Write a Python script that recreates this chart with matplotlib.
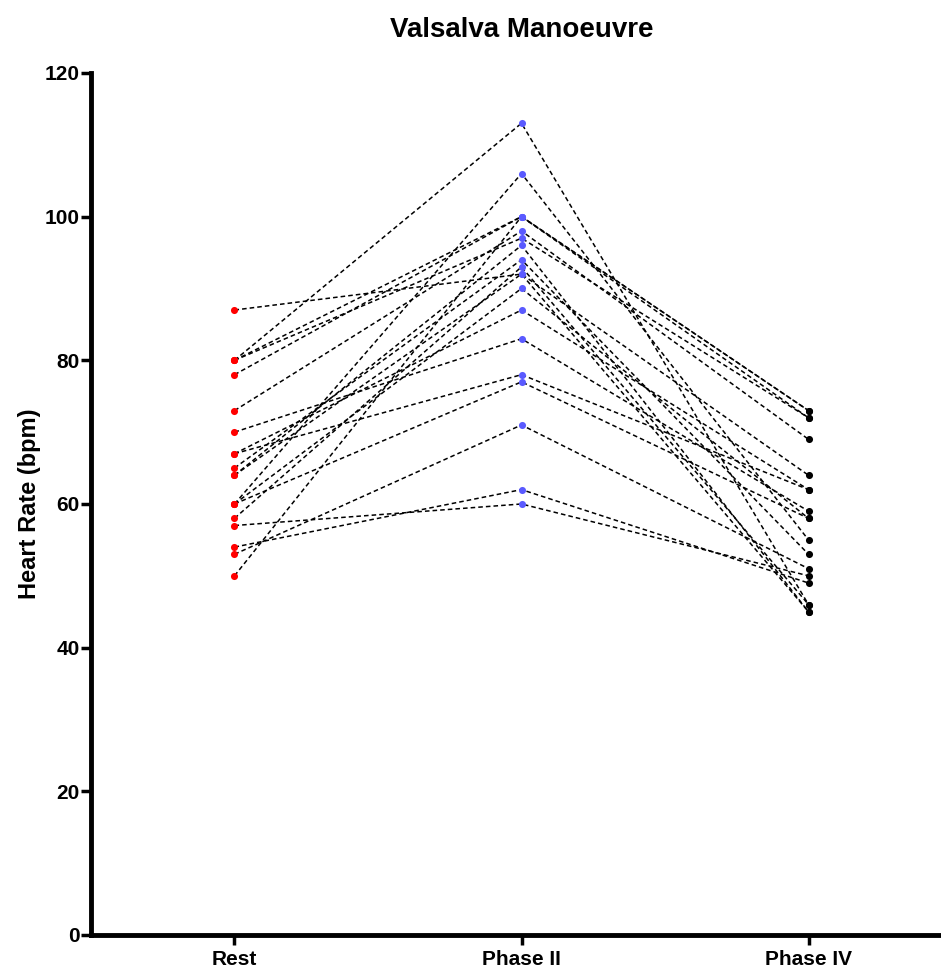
import matplotlib
matplotlib.use('Agg')
import matplotlib.pyplot as plt

plt.rcParams['font.family'] = ['Liberation Sans', 'DejaVu Sans']
plt.rcParams['font.weight'] = 'bold'

# data: one entry per subject (heart rate, bpm)
phases = ['Rest', 'Phase II', 'Phase IV']
rest   = [87, 80, 80, 80, 78, 73, 70, 67, 67, 60, 58, 57, 54, 53, 50, 60, 65, 64, 60, 64]
phase2 = [92, 113, 100, 97, 100, 98, 83, 87, 78, 77, 93, 60, 62, 71, 100, 106, 94, 96, 90, 92]
phase4 = [64, 46, 73, 72, 72, 69, 59, 62, 62, 58, 46, 50, 49, 51, 73, 55, 53, 45, 58, 45]
colors = ['#ff0000', '#5a5aff', '#000000']

fig = plt.figure(figsize=(9.41, 9.69), dpi=100)
ax = fig.add_axes([0.0967, 0.0351, 0.915, 0.8896])

xs = [0, 1, 2]
for r, p2, p4 in zip(rest, phase2, phase4):
    ax.plot(xs, [r, p2, p4], color='black', lw=1.1, linestyle=(0, (3, 2)), zorder=2)
for i, vals in enumerate([rest, phase2, phase4]):
    ax.scatter([xs[i]] * len(vals), vals, s=26, color=colors[i], zorder=3, linewidths=0)

ax.set_xlim(-0.5, 2.5)
ax.set_ylim(0, 120)
ax.set_yticks(range(0, 121, 20))
ax.set_xticks(xs)
ax.set_xticklabels(phases)
ax.spines['top'].set_visible(False)
ax.spines['right'].set_visible(False)
ax.spines['left'].set_linewidth(3.5)
ax.spines['bottom'].set_linewidth(3.5)
ax.tick_params(axis='both', width=2.5, length=7, labelsize=15, direction='out')
for lab in ax.get_xticklabels() + ax.get_yticklabels():
    lab.set_fontweight('bold')
ax.tick_params(axis='y', pad=1)
ax.tick_params(axis='x', pad=4)

ax.set_ylabel('Heart Rate (bpm)', fontsize=17, fontweight='bold', labelpad=3)
fig.text(0.554, 0.969, 'Valsalva Manoeuvre', ha='center', va='center',
         fontsize=20, fontweight='bold')

fig.savefig('out.png', dpi=100)
